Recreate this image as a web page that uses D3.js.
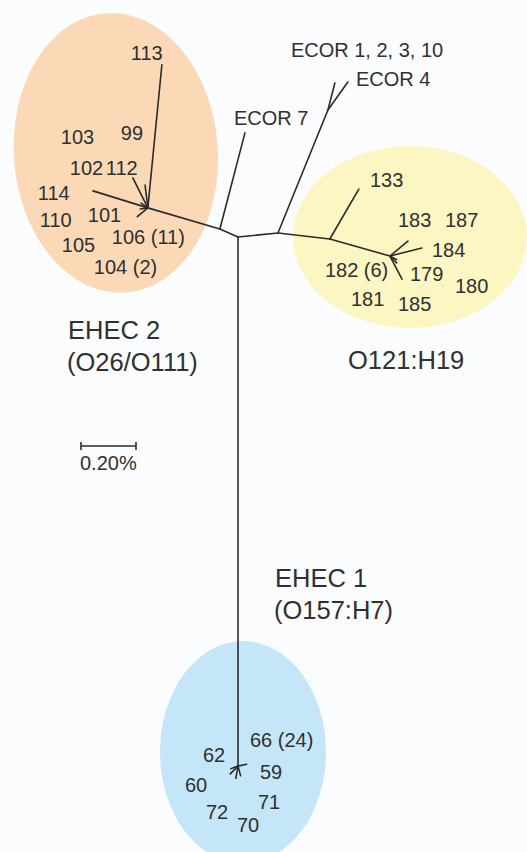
<!DOCTYPE html>
<html>
<head>
<meta charset="utf-8">
<script src="https://cdn.jsdelivr.net/npm/d3@7"></script>
<style>
  html, body { margin: 0; padding: 0; background: #fbfcfd; }
  svg { display: block; }
</style>
</head>
<body>
<svg id="chart" width="527" height="852"></svg>
<script>
// Unrooted tree of E. coli strains; branch lengths in % sequence divergence.
// Each branch: [node, parent, length]
const backboneBranches = [
  ["L", "root", 0.072],
  ["R", "root", 0.146],
  ["EHEC1", "root", 1.924]
];
const ehec2Branches = [
  ["EHEC2", "L", 0.273],
  ["113", "EHEC2", 0.523],
  ["99", "EHEC2", 0.084],
  ["112", "EHEC2", 0.122],
  ["114", "EHEC2", 0.209],
  ["101", "EHEC2", 0.050],
  ["e2a", "EHEC2", 0.030],
  ["e2b", "EHEC2", 0.028]
];
const ecorBranches = [
  ["ECOR 7", "L", 0.361],
  ["ECORsplit", "R", 0.483],
  ["ECOR 1, 2, 3, 10", "ECORsplit", 0.101],
  ["ECOR 4", "ECORsplit", 0.125]
];
const o121Branches = [
  ["O121a", "R", 0.190],
  ["133", "O121a", 0.210],
  ["O121", "O121a", 0.227],
  ["183", "O121", 0.085],
  ["184", "O121", 0.120],
  ["179", "O121", 0.095],
  ["o1", "O121", 0.035],
  ["o2", "O121", 0.028]
];
const ehec1Branches = [
  ["h1", "EHEC1", 0.040],
  ["h2", "EHEC1", 0.045],
  ["h3", "EHEC1", 0.036],
  ["h4", "EHEC1", 0.032],
  ["h5", "EHEC1", 0.028]
];

// Strain labels per clade
const ehec2Labels = ["113", "103", "99", "102", "112", "114", "110", "101", "106 (11)", "105", "104 (2)"];
const ecorLabels = ["ECOR 1, 2, 3, 10", "ECOR 4", "ECOR 7"];
const o121Labels = ["133", "183", "187", "184", "182 (6)", "179", "180", "181", "185"];
const ehec1Labels = ["66 (24)", "62", "59", "60", "71", "72", "70"];
const cladeTitles = [["EHEC 2", "(O26/O111)"], ["O121:H19"], ["EHEC 1", "(O157:H7)"]];
const scaleBarValue = 0.20;

// ---- layout ----
const rootPx = [238, 237];
const unit = d3.scaleLinear().domain([0, scaleBarValue]).range([0, 55]);

// branch directions in degrees (0 = right, 90 = down)
const branchAngle = {
  L: 204, R: -5.7, EHEC1: 90,
  EHEC2: 196.3, "113": -84.4, "99": -97, "112": -116.6, "114": -162.8, "101": 140,
  e2a: -145, e2b: 172,
  "ECOR 7": -75.4, ECORsplit: -67.9, "ECOR 1, 2, 3, 10": -75.5, "ECOR 4": -54.5,
  O121a: 6.6, "133": -59.9, O121: 15.8, "183": -39.8, "184": -14, "179": 62.4,
  o1: 45, o2: 28,
  h1: 135, h2: 100, h3: 75, h4: -12, h5: 160
};

const rows = [["root", null, 0]].concat(backboneBranches, ehec2Branches, ecorBranches, o121Branches, ehec1Branches)
  .map(([id, parent, len]) => ({ id, parent, len }));
const tree = d3.stratify().id(d => d.id).parentId(d => d.parent)(rows);

tree.eachBefore(n => {
  if (!n.parent) { n.x = rootPx[0]; n.y = rootPx[1]; return; }
  const a = branchAngle[n.id] * Math.PI / 180;
  const r = unit(n.data.len);
  n.x = n.parent.x + r * Math.cos(a);
  n.y = n.parent.y + r * Math.sin(a);
});
const pos = {};
tree.each(n => { pos[n.id] = n; });

const svg = d3.select("#chart");
const ink = "#2b2b2b";
const textInk = "#303030";
const font = "'Liberation Sans', Arial, Helvetica, sans-serif";

// clade shading
const cladeShades = [
  { node: "EHEC2", dx: -32, dy: -55, rx: 102, ry: 140, rot: -4, fill: "#fbd9b7" },
  { node: "O121", dx: 20, dy: -19, rx: 117, ry: 91, rot: 0, fill: "#fcf6c2" },
  { node: "EHEC1", dx: 5, dy: -14, rx: 83, ry: 111, rot: 0, fill: "#c4e6f8" }
];
svg.append("g").selectAll("ellipse").data(cladeShades).join("ellipse")
  .attr("transform", d => `translate(${pos[d.node].x + d.dx},${pos[d.node].y + d.dy}) rotate(${d.rot})`)
  .attr("rx", d => d.rx).attr("ry", d => d.ry)
  .attr("fill", d => d.fill);

// branches
svg.append("g").selectAll("line").data(tree.descendants().filter(n => n.parent)).join("line")
  .attr("x1", d => d.parent.x).attr("y1", d => d.parent.y)
  .attr("x2", d => d.x).attr("y2", d => d.y)
  .attr("stroke", ink).attr("stroke-width", 1.6).attr("stroke-linecap", "round");

// strain labels, offset from their clade node
const labelOffset = {
  "113": [-17, -148], "103": [-87, -64], "99": [-27, -68], "102": [-78, -33], "112": [-42, -33],
  "114": [-110, -8], "110": [-108, 19], "101": [-60, 14], "106 (11)": [-36, 36], "105": [-86, 44], "104 (2)": [-54, 66],
  "ECOR 1, 2, 3, 10": [-44, -26], "ECOR 4": [8, 4], "ECOR 7": [-11, -8],
  "133": [-20, -69], "183": [8, -29], "187": [55, -29], "184": [42, 1], "182 (6)": [-65, 21],
  "179": [20, 25], "180": [65, 37], "181": [-39, 50], "185": [8, 55],
  "66 (24)": [12, -19], "62": [-35, -4], "59": [22, 13], "60": [-53, 26], "71": [20, 43], "72": [-32, 53], "70": [-1, 66]
};
const labelAnchor = [
  ...ehec2Labels.map(t => [t, "EHEC2"]),
  ["ECOR 1, 2, 3, 10", "ECOR 1, 2, 3, 10"], ["ECOR 4", "ECOR 4"], ["ECOR 7", "ECOR 7"],
  ...o121Labels.map(t => [t, "O121"]),
  ...ehec1Labels.map(t => [t, "EHEC1"])
];
svg.append("g").attr("font-family", font).attr("font-size", 20).attr("fill", textInk)
  .selectAll("text").data(labelAnchor).join("text")
  .attr("x", d => pos[d[1]].x + labelOffset[d[0]][0])
  .attr("y", d => pos[d[1]].y + labelOffset[d[0]][1])
  .text(d => d[0]);

// clade titles
const titleAnchor = [[68, 339], [348, 369], [275, 587]];
const titles = svg.append("g").attr("font-family", font).attr("font-size", 25.5).attr("fill", textInk);
cladeTitles.forEach((lines, i) => {
  lines.forEach((line, j) => {
    titles.append("text")
      .attr("x", titleAnchor[i][0] - (line.startsWith("(") ? 1 : 0))
      .attr("y", titleAnchor[i][1] + j * 32)
      .text(line);
  });
});

// scale bar
const bar = svg.append("g").attr("transform", "translate(81,446)");
const barLen = unit(scaleBarValue);
bar.append("line").attr("x1", 0).attr("x2", barLen).attr("y1", 0).attr("y2", 0)
  .attr("stroke", ink).attr("stroke-width", 1.6);
[0, barLen].forEach(x => bar.append("line").attr("x1", x).attr("x2", x).attr("y1", -4).attr("y2", 4)
  .attr("stroke", ink).attr("stroke-width", 1.6));
bar.append("text").attr("x", -1).attr("y", 24)
  .attr("font-family", font).attr("font-size", 20).attr("fill", textInk)
  .text(d3.format(".2f")(scaleBarValue) + "%");
</script>
</body>
</html>
